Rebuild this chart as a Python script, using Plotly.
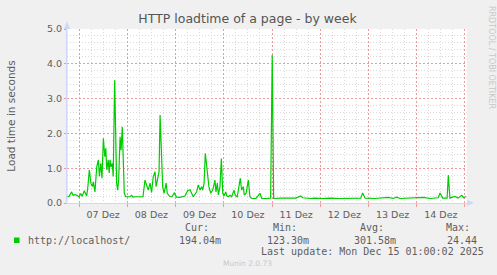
import pandas as pd
import plotly.graph_objects as go

# ---- data ----
start_time = "2025-12-06 18:00"
end_time = "2025-12-15 01:00"
hours = [0, 1.0, 2.3, 3.0, 4.0, 5.0, 6.0, 6.8, 7.5, 8.6, 9.8, 10.3, 11.1, 11.9, 12.6,
         13.1, 13.9, 14.8, 15.6, 16.1, 16.8, 17.4, 18.1, 18.8, 19.3, 19.8, 20.5, 21.0,
         21.4, 21.9, 22.5, 23.0, 23.7, 24.4, 24.7, 25.2, 25.7, 26.4, 26.9, 27.5, 28.0,
         28.5, 29.2, 30.3, 31.3, 32.2, 32.8, 34.3, 36.3, 37.8, 38.8, 39.7, 40.4, 41.3,
         42.1, 42.9, 43.8, 44.3, 44.9, 45.8, 46.3, 47.1, 47.6, 48.3, 49.3, 49.9, 51.2,
         52.2, 53.4, 54.5, 56.2, 58.7, 60.0, 61.2, 62.0, 62.8, 64.5, 65.3, 66.2, 67.0,
         67.5, 68.2, 68.8, 69.5, 70.0, 70.6, 71.5, 72.5, 73.1, 73.6, 74.1, 74.8, 75.3,
         76.1, 76.8, 77.5, 78.1, 79.0, 79.4, 80.2, 81.1, 81.9, 83.1, 83.7, 84.7, 85.7,
         86.2, 86.9, 87.7, 88.2, 89.1, 90.2, 91.0, 91.9, 94.0, 96.0, 96.9, 99.0, 101.3,
         102.1, 102.8, 106.5, 110.6, 113.9, 116.3, 117.3, 120.9, 123.4, 126.7, 130.8,
         135.8, 140.8, 146.1, 147.1, 148.3, 153.2, 159.9, 162.2, 164.0, 165.7, 170.6,
         177.3, 180.6, 184.7, 185.6, 186.9, 189.1, 189.7, 190.5, 193.0, 194.5, 196.4,
         197.4, 198.5]
load = [0.18, 0.19, 0.32, 0.22, 0.24, 0.22, 0.17, 0.27, 0.19, 0.35, 0.20, 0.42, 0.95,
        0.57, 0.47, 0.61, 0.32, 1.04, 1.24, 0.76, 1.14, 0.71, 1.86, 1.33, 1.57, 0.95,
        1.24, 0.86, 1.24, 1.04, 1.14, 0.76, 3.53, 1.04, 0.57, 0.37, 0.66, 1.90, 1.52,
        2.19, 0.76, 0.28, 0.18, 0.17, 0.18, 0.22, 0.17, 0.18, 0.17, 0.18, 0.66, 0.47,
        0.37, 0.57, 0.30, 0.76, 0.90, 0.47, 0.66, 0.90, 2.53, 0.76, 0.47, 0.28, 0.57,
        0.28, 0.18, 0.18, 0.29, 0.17, 0.16, 0.20, 0.35, 0.38, 0.28, 0.18, 0.32, 0.52,
        0.37, 0.47, 0.37, 0.57, 1.43, 1.04, 0.86, 0.47, 0.28, 0.37, 0.52, 0.66, 0.32,
        0.57, 0.23, 0.47, 1.28, 0.28, 0.20, 0.32, 0.22, 0.18, 0.22, 0.18, 0.37, 0.22,
        0.18, 0.52, 0.71, 0.37, 0.47, 0.23, 0.28, 0.66, 0.18, 0.13, 0.13, 0.28, 0.13,
        0.13, 0.14, 4.25, 0.13, 0.14, 0.13, 0.14, 0.20, 0.15, 0.13, 0.14, 0.13, 0.14,
        0.13, 0.13, 0.14, 0.29, 0.14, 0.13, 0.16, 0.13, 0.17, 0.13, 0.14, 0.16, 0.13,
        0.15, 0.29, 0.14, 0.14, 0.80, 0.14, 0.19, 0.14, 0.22, 0.15, 0.19]
series_name = "http://localhost/"
stat_headers = ["Cur:", "Min:", "Avg:", "Max:"]
stat_values = ["194.04m", "123.30m", "301.58m", "24.44"]
last_update = "Last update: Mon Dec 15 01:00:02 2025"

times = pd.Timestamp(start_time) + pd.to_timedelta(hours, unit="h")

# grid positions (minor grid only where there is no major line)
six_hours = pd.date_range("2025-12-06 00:00", "2025-12-15 06:00", freq="6h")
x_minor = [t for t in six_hours if t.hour != 0]
y_minor = [i / 5 for i in range(26) if i % 5]

# ---- layout geometry (pixels) ----
W, H = 497, 275
L, R, T, B = 67, 467, 29, 203


def px(x):
    return (x - L) / (R - L)


def py(y):
    return (B - y) / (B - T)


FONT = "DejaVu Sans"
MONO = "DejaVu Sans Mono"
TXT = "#5E5E5E"
AXIS = "#CFD6F8"
MGRID = "#EA9C9C"
GRID = "#DADADA"

fig = go.Figure()
fig.add_trace(go.Scatter(x=times, y=load, mode="lines",
                         line=dict(color="#00CC00", width=1.2),
                         name=series_name, showlegend=False, hoverinfo="skip"))

fig.update_layout(
    width=W, height=H,
    margin=dict(l=L, r=W - R, t=T, b=H - B, pad=0),
    paper_bgcolor="#F0F0F0", plot_bgcolor="#FFFFFF",
    font=dict(family=FONT, size=9.5, color=TXT),
    showlegend=False,
    title=dict(text="HTTP loadtime of a page - by week", x=px(247.5), xref="paper",
               xanchor="center", y=1 - 19 / H, yanchor="middle",
               font=dict(family=FONT, size=12.5, color="#555555")),
)

fig.update_xaxes(
    type="date", range=[start_time, end_time],
    tick0="2025-12-07", dtick=86400000, ticklabelmode="period",
    tickformat="%d Dez", ticks="outside", ticklen=3, tickcolor=MGRID,
    showgrid=True, gridcolor=MGRID, griddash="2px,2px", gridwidth=1,
    minor=dict(tickmode="array", tickvals=x_minor, showgrid=True,
               gridcolor=GRID, griddash="1px,2px", gridwidth=1),
    showline=True, linecolor=AXIS, linewidth=1, zeroline=False,
    tickfont=dict(family=FONT, size=9.5, color=TXT),
)
fig.update_yaxes(
    range=[0, 5], dtick=1, tickformat=".1f",
    ticks="outside", ticklen=2, tickcolor=MGRID,
    showgrid=True, gridcolor=MGRID, griddash="2px,2px", gridwidth=1,
    minor=dict(tickmode="array", tickvals=y_minor, showgrid=True,
               gridcolor=GRID, griddash="1px,2px", gridwidth=1),
    showline=True, linecolor=AXIS, linewidth=1, zeroline=False,
    tickfont=dict(family=FONT, size=9.5, color=TXT),
    title=dict(text="Load time in seconds", standoff=29,
               font=dict(family=FONT, size=10.5, color=TXT)),
)

# axis arrows
fig.add_shape(type="path", xref="paper", yref="paper", line=dict(width=0),
              fillcolor=AXIS,
              path=f"M {px(64)} {py(29)} L {px(70)} {py(29)} L {px(67)} {py(21)} Z")
fig.add_shape(type="path", xref="paper", yref="paper", line=dict(width=0),
              fillcolor=AXIS,
              path=f"M {px(467)} {py(200)} L {px(467)} {py(206)} L {px(474)} {py(203)} Z")
fig.add_shape(type="line", xref="paper", yref="paper", line=dict(color=AXIS, width=1),
              x0=px(L), x1=px(L), y0=py(B), y1=py(24))

# legend
fig.add_shape(type="rect", xref="paper", yref="paper", line=dict(width=0),
              fillcolor="#00CC00",
              x0=px(14), x1=px(19.5), y0=py(243), y1=py(237.5))
ann = []


def text(x, y, s, size=10, fam=MONO, color=TXT, xanchor="center", angle=0):
    ann.append(dict(x=px(x), y=py(y), xref="paper", yref="paper", text=s,
                    showarrow=False, xanchor=xanchor, yanchor="middle",
                    textangle=angle, font=dict(family=fam, size=size, color=color)))


text(26, 240, series_name, xanchor="left")
header_x = [196.7, 284.7, 371.7, 458.3]
value_x = [200.3, 288.3, 375.0, 462.3]
for hx, vx, h_, v_ in zip(header_x, value_x, stat_headers, stat_values):
    text(hx, 227.3, h_)
    text(vx, 240, v_)
text(372, 251.7, last_update)
text(247.5, 263, "Munin 2.0.73", size=7.5, fam=FONT, color="#C8C8C8")
text(492, 57, "RRDTOOL / TOBI OETIKER", size=8, fam=FONT, color="#C8C8C8", angle=90)
fig.update_layout(annotations=ann)

fig.write_html("out.html")
